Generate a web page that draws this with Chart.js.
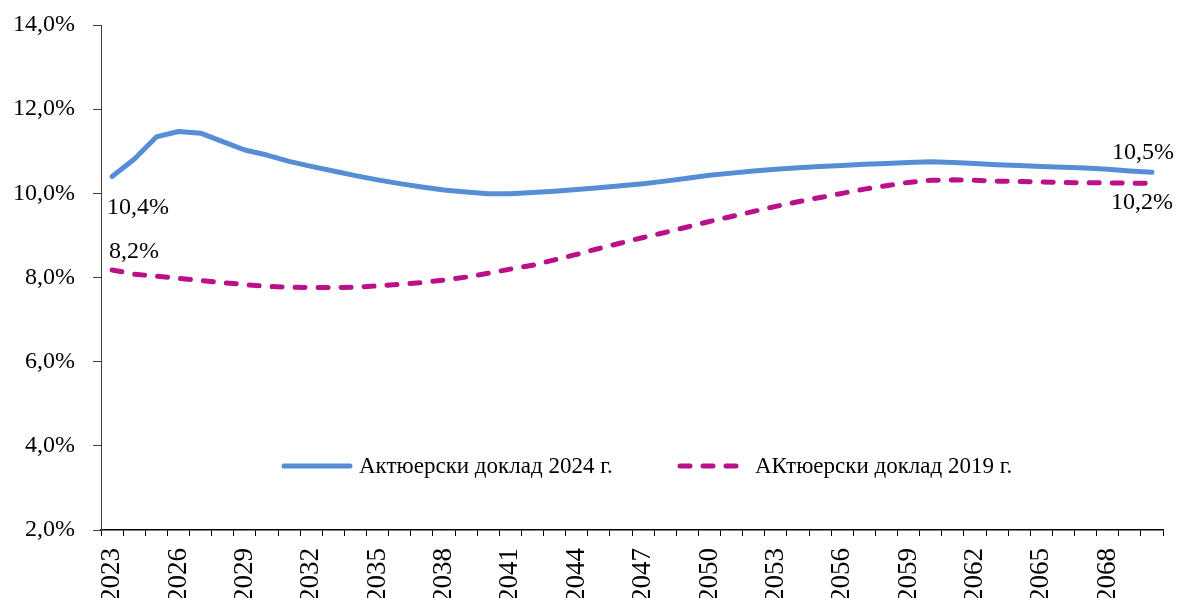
<!DOCTYPE html>
<html>
<head>
<meta charset="utf-8">
<script src="https://cdn.jsdelivr.net/npm/chart.js@4/dist/chart.umd.min.js"></script>
<style>
  html, body { margin: 0; padding: 0; background: #fff; }
  #wrap { width: 1177px; height: 598px; position: relative; }
</style>
</head>
<body>
<div id="wrap"><canvas id="ratioChart"></canvas></div>
<script>
// Years 2023..2070
const years = [
    2023, 2024, 2025, 2026, 2027, 2028, 2029, 2030, 2031, 2032,
    2033, 2034, 2035, 2036, 2037, 2038, 2039, 2040, 2041, 2042,
    2043, 2044, 2045, 2046, 2047, 2048, 2049, 2050, 2051, 2052,
    2053, 2054, 2055, 2056, 2057, 2058, 2059, 2060, 2061, 2062,
    2063, 2064, 2065, 2066, 2067, 2068, 2069, 2070
];

// Актюерски доклад 2024 г.
const report2024 = [
    10.40, 10.81, 11.34, 11.47, 11.43, 11.23, 11.03, 10.91, 10.76, 10.64,
    10.53, 10.42, 10.32, 10.23, 10.15, 10.08, 10.03, 9.99, 9.99, 10.02,
    10.05, 10.09, 10.13, 10.18, 10.23, 10.29, 10.36, 10.43, 10.48, 10.53,
    10.57, 10.61, 10.64, 10.66, 10.69, 10.71, 10.73, 10.75, 10.73, 10.71,
    10.68, 10.66, 10.64, 10.62, 10.60, 10.57, 10.53, 10.50
];

// АКтюерски доклад 2019 г.
const report2019 = [
    8.18, 8.08, 8.03, 7.98, 7.93, 7.88, 7.83, 7.79, 7.77, 7.76,
    7.76, 7.77, 7.80, 7.84, 7.88, 7.94, 8.01, 8.10, 8.20, 8.29,
    8.42, 8.55, 8.69, 8.82, 8.95, 9.07, 9.20, 9.33, 9.45, 9.57,
    9.69, 9.80, 9.90, 10.00, 10.10, 10.18, 10.26, 10.31, 10.32, 10.31,
    10.29, 10.28, 10.27, 10.26, 10.25, 10.25, 10.24, 10.24
];

const seriesNames = ['Актюерски доклад 2024 г.', 'АКтюерски доклад 2019 г.'];
const yTicks = [2, 4, 6, 8, 10, 12, 14];

const FONT = '"Liberation Serif", "Times New Roman", serif';

function pct(v) {
    return v.toFixed(1).replace('.', ',') + '%';
}

// Start / end value labels
const endLabels = {
    id: 'endLabels',
    afterDatasetsDraw(chart) {
        const ctx = chart.ctx;
        ctx.save();
        ctx.font = '24px ' + FONT;
        ctx.fillStyle = '#000';
        ctx.textAlign = 'center';
        ctx.textBaseline = 'middle';
        // offsets: [dx, dy] for first point and last point
        const offs = [
            [[26, 31], [-9, -20]],
            [[22, -18], [-10, 19]]
        ];
        chart.data.datasets.forEach((ds, i) => {
            const pts = chart.getDatasetMeta(i).data;
            const first = pts[0], last = pts[pts.length - 1];
            ctx.fillText(pct(ds.data[0]), first.x + offs[i][0][0], first.y + offs[i][0][1]);
            ctx.fillText(pct(ds.data[ds.data.length - 1]), last.x + offs[i][1][0], last.y + offs[i][1][1]);
        });
        ctx.restore();
    }
};

// Legend drawn inside the plot area
const innerLegend = {
    id: 'innerLegend',
    afterDraw(chart) {
        const ctx = chart.ctx;
        const area = chart.chartArea;
        const y = area.top + 441;
        const items = [
            { x: area.left + 181, text: seriesNames[0] },
            { x: area.left + 577, text: seriesNames[1] }
        ];
        ctx.save();
        ctx.font = '23px ' + FONT;
        ctx.textBaseline = 'middle';
        ctx.textAlign = 'left';
        items.forEach((it, i) => {
            const ds = chart.data.datasets[i];
            ctx.strokeStyle = ds.borderColor;
            ctx.lineWidth = ds.borderWidth;
            ctx.lineCap = 'round';
            ctx.setLineDash(ds.borderDash || []);
            ctx.beginPath();
            ctx.moveTo(it.x + 2, y);
            ctx.lineTo(it.x + 68, y);
            ctx.stroke();
            ctx.setLineDash([]);
            ctx.fillStyle = '#000';
            ctx.fillText(it.text, it.x + 77, y + 1);
        });
        ctx.restore();
    }
};

function initChart() {
    const ctx = document.getElementById('ratioChart').getContext('2d');
    new Chart(ctx, {
        type: 'line',
        data: {
            labels: years.map(String),
            datasets: [
                {
                    label: seriesNames[0],
                    data: report2024,
                    borderColor: '#558ED5',
                    borderWidth: 5,
                    borderCapStyle: 'round',
                    borderJoinStyle: 'round',
                    tension: 0,
                    pointRadius: 0,
                    fill: false
                },
                {
                    label: seriesNames[1],
                    data: report2019,
                    borderColor: '#BA1189',
                    borderWidth: 5,
                    borderDash: [10, 13],
                    borderCapStyle: 'round',
                    borderJoinStyle: 'round',
                    tension: 0,
                    pointRadius: 0,
                    fill: false
                }
            ]
        },
        options: {
            responsive: true,
            maintainAspectRatio: false,
            animation: false,
            layout: {
                padding: { top: 25, right: 14, left: 0, bottom: 0 }
            },
            plugins: {
                legend: { display: false },
                tooltip: { enabled: false }
            },
            scales: {
                x: {
                    offset: true,
                    grid: {
                        offset: true,
                        drawOnChartArea: false,
                        drawTicks: true,
                        tickLength: 6,
                        color: '#000'
                    },
                    border: { color: '#000', width: 1.5 },
                    ticks: {
                        autoSkip: false,
                        minRotation: 90,
                        maxRotation: 90,
                        padding: 12,
                        color: '#000',
                        font: { family: FONT, size: 27 },
                        callback: function(value, index) {
                            return index % 3 === 0 ? years[index] : '';
                        }
                    },
                    afterFit: function(scale) {
                        scale.height = 68;
                        scale.paddingLeft = 0;
                        scale.paddingRight = 0;
                    }
                },
                y: {
                    min: yTicks[0],
                    max: yTicks[yTicks.length - 1],
                    grid: {
                        drawOnChartArea: false,
                        drawTicks: true,
                        tickLength: 8,
                        color: '#404040'
                    },
                    border: { color: '#404040', width: 1 },
                    afterBuildTicks: function(scale) {
                        scale.ticks = yTicks.map(v => ({ value: v }));
                    },
                    ticks: {
                        padding: 18,
                        color: '#000',
                        font: { family: FONT, size: 24 },
                        callback: function(value) { return pct(value); }
                    },
                    afterFit: function(scale) {
                        scale.width = 101;
                        scale.paddingTop = 0;
                        scale.paddingBottom = 0;
                    }
                }
            }
        },
        plugins: [endLabels, innerLegend]
    });
}

document.addEventListener('DOMContentLoaded', function() {
    initChart();
});
</script>
</body>
</html>
